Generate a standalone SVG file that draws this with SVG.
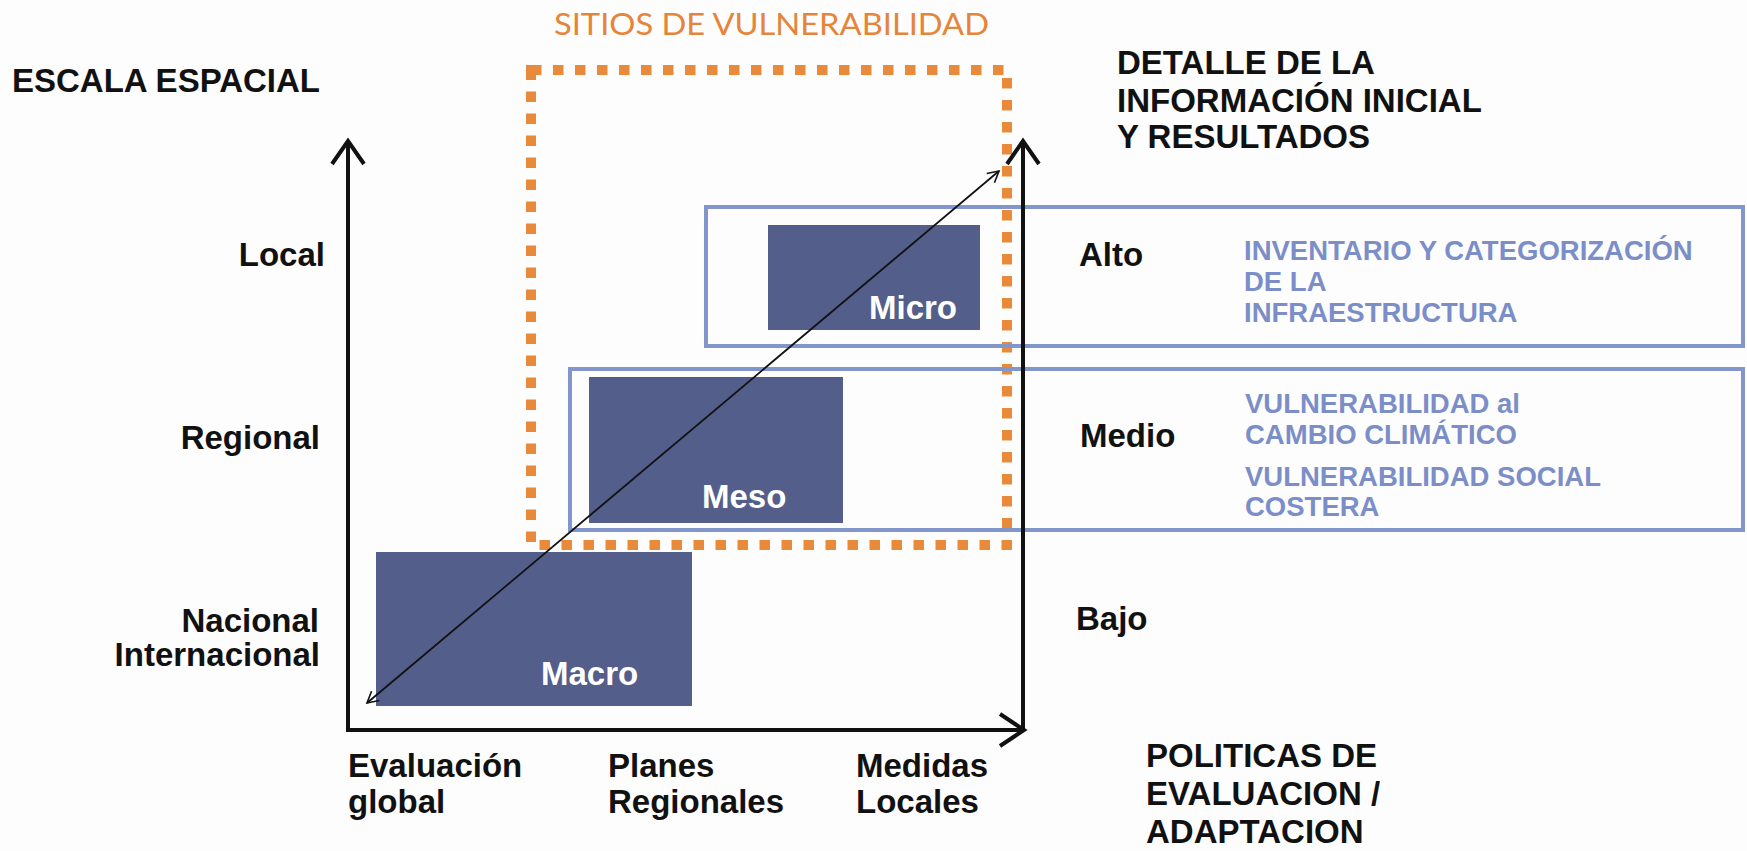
<svg xmlns="http://www.w3.org/2000/svg" width="1747" height="851" viewBox="0 0 1747 851">
<defs>
<style>
.lbl{font-family:"Liberation Sans",Arial,sans-serif;font-weight:bold;font-size:33px;fill:#111}
.blue{font-family:"Liberation Sans",Arial,sans-serif;font-weight:bold;font-size:27.5px;fill:#7b8ec8}
.box{fill:#535e8a}
.boxt{font-family:"Liberation Sans",Arial,sans-serif;font-weight:bold;font-size:33px;fill:#fff}
.frame{fill:none;stroke:#8396cc;stroke-width:4}
.axis{fill:none;stroke:#111;stroke-width:4;stroke-linejoin:miter}
</style>
<marker id="oh" viewBox="0 0 14 14" refX="12" refY="7" markerWidth="14" markerHeight="14" markerUnits="userSpaceOnUse" orient="auto-start-reverse">
<path d="M1,1 L12,7 L1,13" fill="none" stroke="#111" stroke-width="1.6"/>
</marker>
</defs>
<rect width="1747" height="851" fill="#fdfdfd"/>

<g id="sitios">
<rect x="531" y="70" width="476" height="475" fill="none" stroke="#e9893a" stroke-width="10" stroke-dasharray="10.5 11.5"/>
<text x="554" y="35" font-family="Lato,'Open Sans',sans-serif" font-size="31" fill="#e5853a" textLength="435" lengthAdjust="spacingAndGlyphs">SITIOS DE VULNERABILIDAD</text>
</g>

<g id="frame-alto">
<rect class="frame" x="706" y="207" width="1037" height="139"/>
</g>
<g id="frame-medio">
<rect class="frame" x="570" y="369" width="1173" height="161"/>
</g>

<g id="micro">
<rect class="box" x="768" y="225" width="212" height="105"/>
<text class="boxt" x="869" y="319">Micro</text>
</g>
<g id="meso">
<rect class="box" x="589" y="377" width="254" height="146"/>
<text class="boxt" x="702" y="508">Meso</text>
</g>
<g id="macro">
<rect class="box" x="376" y="552" width="316" height="154"/>
<text class="boxt" x="541" y="685">Macro</text>
</g>

<g id="connectors">
<polyline class="axis" points="348,142 348,730 1023,730"/>
<polyline class="axis" points="332,164 348,141 364,164"/>
<line class="axis" x1="1023" y1="730" x2="1023" y2="142"/>
<polyline class="axis" points="1007,164 1023,141 1039,164"/>
<polyline class="axis" points="1000,714 1024,730 1000,746"/>
<line x1="367" y1="703" x2="999" y2="171" stroke="#111" stroke-width="1.8" marker-start="url(#oh)" marker-end="url(#oh)"/>
</g>

<g id="escala">
<text class="lbl" x="12" y="92">ESCALA ESPACIAL</text>
</g>
<g id="detalle">
<text class="lbl" x="1117" y="74">DETALLE DE LA</text>
<text class="lbl" x="1117" y="112">INFORMACIÓN INICIAL</text>
<text class="lbl" x="1117" y="148">Y RESULTADOS</text>
</g>
<g id="scale-labels">
<text class="lbl" x="325" y="266" text-anchor="end">Local</text>
<text class="lbl" x="320" y="449" text-anchor="end">Regional</text>
<text class="lbl" x="319" y="632" text-anchor="end">Nacional</text>
<text class="lbl" x="320" y="666" text-anchor="end">Internacional</text>
</g>
<g id="detail-labels">
<text class="lbl" x="1079" y="266">Alto</text>
<text class="lbl" x="1080" y="447">Medio</text>
<text class="lbl" x="1076" y="630">Bajo</text>
</g>
<g id="alto-text">
<text class="blue" x="1244" y="260">INVENTARIO Y CATEGORIZACIÓN</text>
<text class="blue" x="1244" y="291">DE LA</text>
<text class="blue" x="1244" y="322">INFRAESTRUCTURA</text>
</g>
<g id="medio-text">
<text class="blue" x="1245" y="413">VULNERABILIDAD al</text>
<text class="blue" x="1245" y="444">CAMBIO CLIMÁTICO</text>
<text class="blue" x="1245" y="486">VULNERABILIDAD SOCIAL</text>
<text class="blue" x="1245" y="516">COSTERA</text>
</g>
<g id="policy-labels">
<text class="lbl" x="348" y="777">Evaluación</text>
<text class="lbl" x="348" y="813">global</text>
<text class="lbl" x="608" y="777">Planes</text>
<text class="lbl" x="608" y="813">Regionales</text>
<text class="lbl" x="856" y="777">Medidas</text>
<text class="lbl" x="856" y="813">Locales</text>
</g>
<g id="politicas">
<text class="lbl" x="1146" y="767">POLITICAS DE</text>
<text class="lbl" x="1146" y="805">EVALUACION /</text>
<text class="lbl" x="1146" y="843">ADAPTACION</text>
</g>
</svg>
